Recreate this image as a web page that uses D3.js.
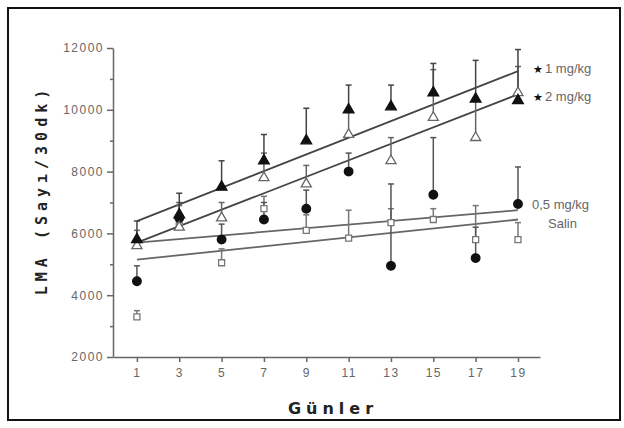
<!DOCTYPE html>
<html>
<head>
<meta charset="utf-8">
<script src="https://cdn.jsdelivr.net/npm/d3@7"></script>
<style>
  body { margin: 0; background: #fff; }
  svg { display: block; }
  .axis path, .axis line { stroke: #666; stroke-width: 1.5; }
  .axis text { fill: #666; font-family: "Liberation Sans", Arial, sans-serif; font-size: 12px; letter-spacing: 1.5px; }
</style>
</head>
<body>
<svg id="chart" width="624" height="428"></svg>
<script>
// days on the x axis
var days = [1, 3, 5, 7, 9, 11, 13, 15, 17, 19];

// group means and top of error bar (LMA, count / 30 min)
var mg1 = [5800, 6600, 7500, 8350, 9000, 10000, 10100, 10550, 10350, 10300];
var mg1Err = [6400, 7300, 8350, 9200, 10050, 10800, 10800, 11500, 11600, 11950];
var mg2 = [5600, 6200, 6500, 7800, 7600, 9200, 8350, 9750, 9100, 10550];
var mg2Err = [6100, 6900, 7000, 8600, 8200, 10000, 9100, 11300, 10300, 11400];
var mg05 = [4450, 6500, 5800, 6450, 6800, 8000, 4950, 7250, 5200, 6950];
var mg05Err = [4950, 7000, 6300, 7000, 7400, 8600, 7600, 9100, 6200, 8150];
var salin = [3300, 6250, 5050, 6800, 6100, 5850, 6350, 6450, 5800, 5800];
var salinErr = [3500, 6600, 5500, 7200, 6600, 6750, 6800, 6800, 6900, 6350];

// regression line values at day 1 and day 19 (order: 1, 2, 0.5, salin)
var fitDay1 = [6400, 5700, 5700, 5150];
var fitDay19 = [11250, 10500, 6750, 6450];

var seriesNames = ["1 mg/kg", "2 mg/kg", "0,5 mg/kg", "Salin"];
var yTicks = [2000, 3000, 4000, 5000, 6000, 7000, 8000, 9000, 10000, 11000, 12000];

var svg = d3.select("#chart");

// outer frame
svg.append("rect")
    .attr("x", 8).attr("y", 8)
    .attr("width", 612).attr("height", 412)
    .attr("fill", "none")
    .attr("stroke", "#111")
    .attr("stroke-width", 2);

var x = d3.scaleLinear().domain([-0.13, 20.04]).range([113, 540]),
    y = d3.scaleLinear().domain([2000, 12000]).range([357, 48]);

svg.append("g")
    .attr("class", "axis")
    .attr("transform", "translate(0,357)")
    .call(d3.axisBottom(x).tickValues(days).tickSize(5).tickSizeOuter(0).tickPadding(6));

var yAxis = svg.append("g")
    .attr("class", "axis")
    .attr("transform", "translate(113,0)")
    .call(d3.axisLeft(y).tickValues(yTicks).tickSizeOuter(0).tickPadding(3)
      .tickFormat(function(d) { return d % 2000 == 0 ? d : ""; }));
yAxis.selectAll(".tick line").attr("x2", function(d) { return d % 2000 == 0 ? -6 : -3; });

// axis titles
svg.append("text")
    .attr("x", 333).attr("y", 414)
    .attr("text-anchor", "middle")
    .attr("font-family", "DejaVu Sans, sans-serif")
    .attr("font-weight", "bold")
    .attr("font-size", 16)
    .attr("letter-spacing", 5)
    .attr("fill", "#222")
    .text("Günler");

svg.append("text")
    .attr("transform", "translate(47,190) rotate(-90)")
    .attr("text-anchor", "middle")
    .attr("font-family", "DejaVu Sans Mono, monospace")
    .attr("font-weight", "bold")
    .attr("font-size", 15)
    .attr("letter-spacing", 5)
    .attr("fill", "#222")
    .text("LMA (Sayı/30dk)");

// regression lines
var fits = svg.append("g");
fitDay1.forEach(function(v, i) {
  fits.append("line")
      .attr("x1", x(1)).attr("y1", y(v))
      .attr("x2", x(19)).attr("y2", y(fitDay19[i]))
      .attr("stroke", i < 2 ? "#444" : "#666")
      .attr("stroke-width", 1.8);
});

// error bars (upper only)
function errorBars(vals, errs, color) {
  var g = svg.append("g").attr("stroke", color).attr("stroke-width", 1.5);
  days.forEach(function(d, i) {
    g.append("line")
        .attr("x1", x(d)).attr("x2", x(d))
        .attr("y1", y(vals[i])).attr("y2", y(errs[i]));
    g.append("line")
        .attr("x1", x(d) - 3).attr("x2", x(d) + 3)
        .attr("y1", y(errs[i])).attr("y2", y(errs[i]));
  });
}
errorBars(salin, salinErr, "#777");
errorBars(mg05, mg05Err, "#555");
errorBars(mg2, mg2Err, "#666");
errorBars(mg1, mg1Err, "#444");

// markers
function markers(vals, type, fill, stroke, size) {
  svg.append("g").selectAll("path")
    .data(vals)
    .enter().append("path")
      .attr("transform", function(d, i) { return "translate(" + x(days[i]) + "," + y(d) + ")"; })
      .attr("d", d3.symbol().type(type).size(size))
      .attr("fill", fill)
      .attr("stroke", stroke)
      .attr("stroke-width", 1.3);
}
markers(salin, d3.symbolSquare, "#fff", "#777", 36);
markers(mg05, d3.symbolCircle, "#111", "#111", 58);
markers(mg2, d3.symbolTriangle, "#fff", "#666", 44);
markers(mg1, d3.symbolTriangle, "#111", "#111", 50);

// series labels on the right
var legendY = [69, 97, 205, 224];
var legendX = [545, 545, 532, 548];
seriesNames.forEach(function(name, i) {
  if (i < 2) {
    svg.append("text")
        .attr("x", legendX[i] - 12).attr("y", legendY[i] + 4)
        .attr("font-family", "DejaVu Sans, sans-serif")
        .attr("font-size", 11)
        .attr("fill", "#111")
        .text("★");
  }
  svg.append("text")
      .attr("x", legendX[i]).attr("y", legendY[i] + 4)
      .attr("font-family", "Liberation Sans, Arial, sans-serif")
      .attr("font-size", 13)
      .attr("fill", "#666")
      .text(name);
});
</script>
</body>
</html>
